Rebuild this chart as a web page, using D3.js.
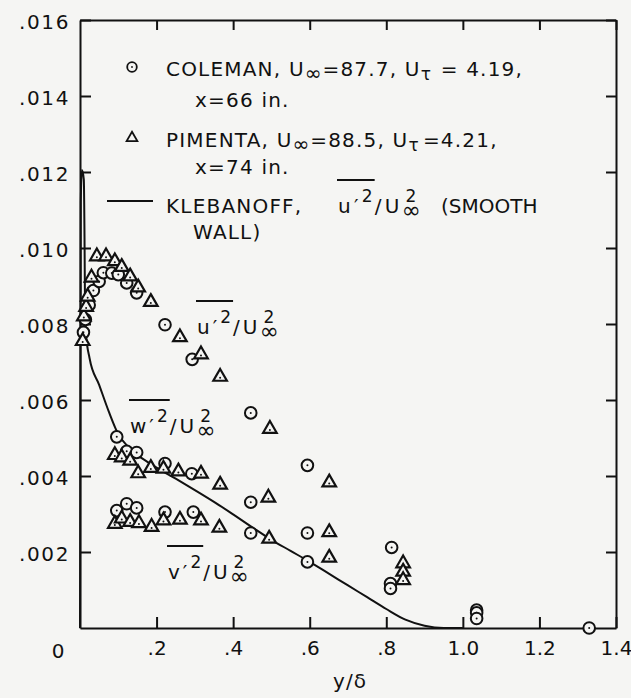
<!DOCTYPE html>
<html>
<head>
<meta charset="utf-8">
<script src="https://cdn.jsdelivr.net/npm/d3@7"></script>
<style>
  body { margin: 0; background: #f5f5f3; }
  svg { display: block; }
  text { font-family: "DejaVu Sans", sans-serif; fill: #111; }
</style>
</head>
<body>
<svg id="chart" width="631" height="698"></svg>
<script>
// Axis ticks and labels
const xTicks = [0.2, 0.4, 0.6, 0.8, 1.0, 1.2, 1.4];
const xTickLabels = [".2", ".4", ".6", ".8", "1.0", "1.2", "1.4"];
const yTicks = [0.002, 0.004, 0.006, 0.008, 0.010, 0.012, 0.014, 0.016];
const yTickLabels = [".002", ".004", ".006", ".008", ".010", ".012", ".014", ".016"];

// Coleman (circles): [y/delta, value]
const colemanU = [[0.009,0.00778],[0.014,0.00812],[0.024,0.00850],[0.035,0.00888],[0.050,0.00912],
  [0.061,0.00935],[0.083,0.00934],[0.100,0.00930],[0.122,0.00908],[0.148,0.00882],[0.222,0.00798],
  [0.293,0.00707],[0.446,0.00566],[0.594,0.00428],[0.814,0.00212],[1.036,0.00047],[1.330,0.0]];
const colemanW = [[0.096,0.00503],[0.122,0.00465],[0.148,0.00462],[0.222,0.00433],[0.292,0.00406],
  [0.446,0.00331],[0.594,0.00250],[0.811,0.00117],[1.036,0.00040]];
const colemanV = [[0.096,0.00309],[0.122,0.00327],[0.148,0.00316],[0.222,0.00305],[0.296,0.00305],
  [0.446,0.00250],[0.594,0.00174],[0.811,0.00104],[1.036,0.00025]];

// Pimenta (triangles): [y/delta, value]
const pimentaU = [[0.007,0.00755],[0.010,0.00820],[0.016,0.00845],[0.020,0.00872],[0.030,0.00922],
  [0.044,0.00978],[0.068,0.00978],[0.091,0.00965],[0.109,0.00950],[0.131,0.00925],[0.152,0.00896],
  [0.185,0.00858],[0.261,0.00765],[0.316,0.00720],[0.366,0.00661],[0.496,0.00524],[0.651,0.00383],
  [0.844,0.00170]];
const pimentaW = [[0.091,0.00455],[0.109,0.00449],[0.131,0.00440],[0.152,0.00407],[0.185,0.00421],
  [0.218,0.00419],[0.257,0.00412],[0.316,0.00406],[0.366,0.00377],[0.492,0.00343],[0.651,0.00252],
  [0.844,0.00148]];
const pimentaV = [[0.091,0.00274],[0.109,0.00288],[0.131,0.00279],[0.154,0.00276],[0.187,0.00266],
  [0.218,0.00283],[0.261,0.00285],[0.316,0.00283],[0.364,0.00264],[0.494,0.00235],[0.651,0.00185],
  [0.844,0.00126]];

// Klebanoff smooth-wall u'^2/U^2 profile
const klebanoff = [[0.0,0.0],[0.002,0.0112],[0.005,0.01205],[0.010,0.0118],[0.012,0.0100],
  [0.013,0.0086],[0.016,0.0077],[0.025,0.0071],[0.05,0.0064],[0.075,0.0057],[0.1,0.0051],
  [0.125,0.00478],[0.15,0.00455],[0.175,0.00438],[0.2,0.00422],[0.25,0.00393],[0.3,0.00363],
  [0.35,0.00332],[0.4,0.00299],[0.45,0.00265],[0.5,0.00232],[0.55,0.00203],[0.6,0.00174],
  [0.65,0.00143],[0.7,0.00112],[0.75,0.00081],[0.8,0.0005],[0.85,0.00022],[0.9,0.00006],
  [0.95,0.0],[1.0,0.0]];

const svg = d3.select("#chart");
const L = 80, R = 616, T = 20, B = 628;
const x = d3.scaleLinear().domain([0, 1.4]).range([L, R]);
const y = d3.scaleLinear().domain([0, 0.016]).range([B, T]);
const ink = "#111";
const bg = "#f5f5f3";

// Frame and inward ticks
function styleAxis(g) {
  g.selectAll("path.domain").attr("stroke", ink).attr("stroke-width", 2);
  g.selectAll(".tick line").attr("stroke", ink).attr("stroke-width", 2);
  g.selectAll(".tick text").attr("fill", ink).style("font-family", "DejaVu Sans, sans-serif")
    .style("font-size", "20px");
}
svg.append("g").attr("transform", `translate(${L},0)`)
  .call(d3.axisLeft(y).tickValues(yTicks).tickSize(-11).tickSizeOuter(0).tickPadding(10)
    .tickFormat((d, i) => yTickLabels[i]))
  .call(styleAxis)
  .call(g => g.selectAll(".tick text").attr("dy", "0.42em").attr("letter-spacing", "1.6px"));
svg.append("g").attr("transform", `translate(${R},0)`)
  .call(d3.axisRight(y).tickValues(yTicks).tickSize(-10).tickSizeOuter(0).tickFormat(""))
  .call(styleAxis);
svg.append("g").attr("transform", `translate(0,${B})`)
  .call(d3.axisBottom(x).tickValues(xTicks).tickSize(-11).tickSizeOuter(0).tickPadding(13)
    .tickFormat((d, i) => xTickLabels[i]))
  .call(styleAxis);
svg.append("g").attr("transform", `translate(0,${T})`)
  .call(d3.axisTop(x).tickValues(xTicks).tickSize(-10).tickSizeOuter(0).tickFormat(""))
  .call(styleAxis);

// Origin label and axis title
svg.append("text").attr("x", x(0) - 22).attr("y", 658).attr("text-anchor", "middle")
  .style("font-size", "20px").text("0");
svg.append("text").attr("x", 350).attr("y", 688).attr("text-anchor", "middle")
  .style("font-size", "20px").attr("letter-spacing", "1px").text("y/δ");

// Klebanoff curve
svg.append("path").datum(klebanoff)
  .attr("fill", "none").attr("stroke", ink).attr("stroke-width", 2)
  .attr("d", d3.line().x(d => x(d[0])).y(d => y(d[1])).curve(d3.curveMonotoneX));

// Markers
function circles(data) {
  const g = svg.append("g");
  g.selectAll("circle.m").data(data).join("circle").attr("class", "m")
    .attr("cx", d => x(d[0])).attr("cy", d => y(d[1])).attr("r", 5.8)
    .attr("fill", bg).attr("stroke", ink).attr("stroke-width", 2);
  g.selectAll("circle.c").data(data).join("circle").attr("class", "c")
    .attr("cx", d => x(d[0])).attr("cy", d => y(d[1])).attr("r", 1).attr("fill", ink);
}
const tri = d3.symbol().type(d3.symbolTriangle).size(80);
function triangles(data) {
  const g = svg.append("g");
  data.forEach(d => {
    g.append("path").attr("d", tri()).attr("transform", `translate(${x(d[0])},${y(d[1])})`)
      .attr("fill", bg).attr("stroke", ink).attr("stroke-width", 2.2).attr("stroke-linejoin", "miter");
    g.append("circle").attr("cx", x(d[0])).attr("cy", y(d[1]) + 1).attr("r", 1).attr("fill", ink);
  });
}
circles(colemanU); circles(colemanW); circles(colemanV);
triangles(pimentaU); triangles(pimentaW); triangles(pimentaV);

// One text line built from tspans: {t, size, rise, stack, gap, ax, ls}
// rise > 0 lifts a piece (superscript); stack puts a piece above the previous one.
function richLine(g, x0, yb, pieces, base, spacing) {
  const text = g.append("text").attr("x", x0).attr("y", yb)
    .style("font-size", base + "px").attr("letter-spacing", spacing + "px");
  let rise = 0, endX = x0, prev = null, overStart = null, overEnd = null;
  pieces.forEach(p => {
    const ts = text.append("tspan").style("font-size", (p.size || base) + "px").text(p.t);
    if (p.ls !== undefined) ts.attr("letter-spacing", p.ls + "px");
    const r = p.rise || 0;
    ts.attr("dy", -(r - rise)); rise = r;
    if (p.stack) ts.attr("x", prev.x + (p.shift || 0));
    else if (p.ax !== undefined) ts.attr("x", p.ax);
    else ts.attr("x", endX + (p.gap || 0));
    const n = ts.node();
    const sx = n.getStartPositionOfChar(0).x;
    const ex = n.getEndPositionOfChar(n.getNumberOfChars() - 1).x;
    if (p.overStart) overStart = sx;
    if (p.overEnd) overEnd = ex;
    if (!p.stack) prev = { x: sx };
    endX = Math.max(endX, ex);
  });
  return { end: endX, overStart, overEnd };
}

// Fluctuation ratio pieces: q'^2 / U_inf^2
function ratioPieces(letter, ax) {
  return [
    { t: letter, ax: ax, overStart: true },
    { t: "′", gap: 2 },
    { t: "2", size: 17, rise: 11, gap: 2, overEnd: true },
    { t: "/", gap: 1 },
    { t: "U", gap: 2 },
    { t: "∞", size: 23, rise: -5, gap: 1, ls: 0 },
    { t: "2", size: 17, rise: 11, stack: true, shift: 4 }
  ];
}
function overline(g, r, yb) {
  g.append("line").attr("x1", r.overStart - 1).attr("x2", r.overEnd + 1)
    .attr("y1", yb - 33).attr("y2", yb - 33).attr("stroke", ink).attr("stroke-width", 2);
}

// Legend
const leg = svg.append("g");
leg.append("circle").attr("cx", 132).attr("cy", 67).attr("r", 4.8)
  .attr("fill", "none").attr("stroke", ink).attr("stroke-width", 1.8);
leg.append("circle").attr("cx", 132).attr("cy", 67).attr("r", 0.9).attr("fill", ink);
leg.append("path").attr("d", d3.symbol().type(d3.symbolTriangle).size(50)())
  .attr("transform", "translate(132,138)").attr("fill", "none").attr("stroke", ink).attr("stroke-width", 1.8);
leg.append("line").attr("x1", 107).attr("x2", 153).attr("y1", 201).attr("y2", 201)
  .attr("stroke", ink).attr("stroke-width", 2);

const LS = 1.2;
richLine(leg, 166, 76, [
  { t: "COLEMAN, U" }, { t: "∞", size: 20, rise: -4, ls: 0 }, { t: "=87.7, U", gap: 1 },
  { t: "τ", size: 17, rise: -4 }, { t: " = 4.19,", gap: 1 }
], 20, LS);
richLine(leg, 195, 107, [{ t: "x=66 in." }], 20, LS);
richLine(leg, 166, 147, [
  { t: "PIMENTA, U" }, { t: "∞", size: 20, rise: -4, ls: 0 }, { t: "=88.5, U", gap: 1 },
  { t: "τ", size: 17, rise: -4 }, { t: "=4.21,", gap: 3 }
], 20, LS);
richLine(leg, 195, 174, [{ t: "x=74 in." }], 20, LS);
const kl = richLine(leg, 166, 213,
  [{ t: "KLEBANOFF," }].concat(ratioPieces("u", 338)).concat([{ t: "(SMOOTH", ax: 441, ls: 0 }]), 20, LS);
overline(leg, kl, 213);
richLine(leg, 193, 239, [{ t: "WALL)" }], 20, LS);

// Curve annotations
const ann = svg.append("g");
overline(ann, richLine(ann, 197, 334, ratioPieces("u"), 20, 1), 334);
overline(ann, richLine(ann, 130, 433, ratioPieces("w"), 20, 1), 433);
overline(ann, richLine(ann, 168, 579, ratioPieces("v"), 20, 1), 579);
</script>
</body>
</html>
